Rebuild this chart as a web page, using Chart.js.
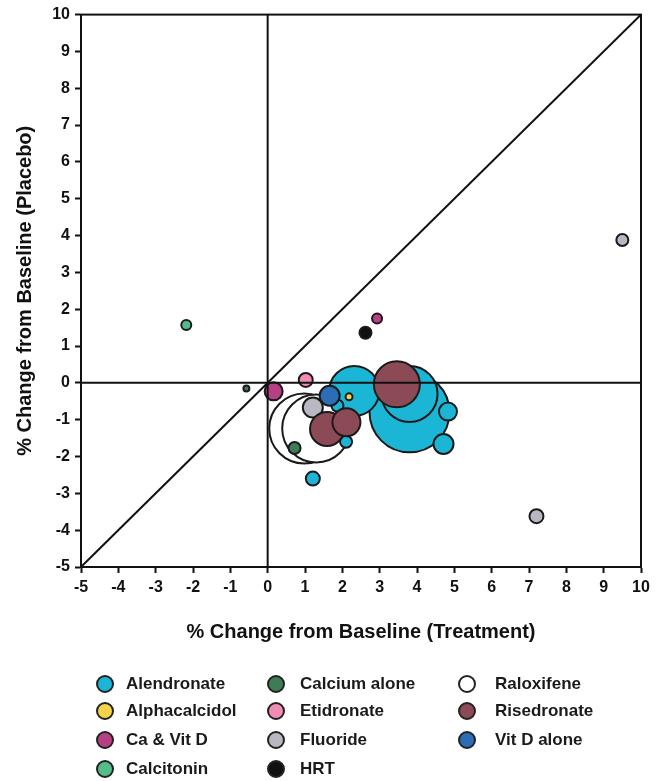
<!DOCTYPE html>
<html>
<head>
<meta charset="utf-8">
<title>% Change from Baseline</title>
<script src="https://cdn.jsdelivr.net/npm/chart.js@4/dist/chart.umd.min.js"></script>
<style>
    html, body { margin: 0; padding: 0; background: #fff; }
    #wrap { position: relative; width: 668px; height: 781px; overflow: hidden; }
    #legend { position: absolute; left: 0; top: 0; width: 668px; height: 781px; pointer-events: none;
              font-family: "Liberation Sans", Arial, sans-serif; font-weight: bold; font-size: 17px; color: #1a1a1a; }
    .dot { position: absolute; width: 14px; height: 14px; border: 2px solid #222; border-radius: 50%; }
    .lbl { position: absolute; line-height: 20px; white-space: nowrap; }
</style>
</head>
<body>
<div id="wrap">
    <canvas id="chart" width="668" height="781"></canvas>
    <div id="legend"></div>
</div>
<script>
// series names / colours (legend order, column by column)
const seriesNames = ['Alendronate', 'Alphacalcidol', 'Ca & Vit D', 'Calcitonin',
                     'Calcium alone', 'Etidronate', 'Fluoride', 'HRT',
                     'Raloxifene', 'Risedronate', 'Vit D alone'];
const seriesColors = ['#1bb6d5', '#f7d24b', '#b73f84', '#52bd88',
                      '#3e7c58', '#f28cb6', '#b9b8c2', '#101010',
                      '#ffffff', '#8b4a56', '#2b6db6'];

// each point: [treatment % change, placebo % change, bubble size]
const alendronate = [[3.8, -0.8, 40], [3.8, -0.3, 28], [2.32, -0.22, 25], [4.83, -0.78, 9],
                     [4.71, -1.66, 10], [1.21, -2.6, 7], [2.1, -1.6, 6], [1.87, -0.62, 6]];
const alphacalcidol = [[2.18, -0.38, 3.5]];
const caVitD = [[0.16, -0.23, 9], [2.93, 1.75, 5]];
const calcitonin = [[-2.18, 1.57, 5]];
const calciumAlone = [[-0.57, -0.15, 3], [0.72, -1.77, 6]];
const etidronate = [[1.02, 0.08, 7]];
const fluoride = [[1.21, -0.67, 10], [9.5, 3.88, 6], [7.2, -3.62, 7]];
const hrt = [[2.62, 1.36, 6]];
const raloxifene = [[0.98, -1.24, 35], [1.3, -1.24, 34]];
const risedronate = [[3.46, -0.04, 23], [1.59, -1.25, 17], [2.11, -1.07, 14]];
const vitDAlone = [[1.66, -0.35, 10]];

const seriesData = [alendronate, alphacalcidol, caVitD, calcitonin, calciumAlone, etidronate,
                    fluoride, hrt, raloxifene, risedronate, vitDAlone];
// larger = drawn further back
const drawOrder = [9, 3, 3, 6, 8, 7, 6, 3, 10, 5, 4];

// axis range and reference lines
const axisMin = -5;
const axisMax = 10;
const identityLine = [[-5, -5], [10, 10]];
const xZeroLine = [[0, -5], [0, 10]];
const yZeroLine = [[-5, 0], [10, 0]];

Chart.defaults.font.family = '"Liberation Sans", Arial, sans-serif';

function toPoints(arr) {
    return arr.map(p => ({ x: p[0], y: p[1], r: p[2] }));
}

function refLine(arr) {
    return {
        type: 'line',
        data: arr.map(p => ({ x: p[0], y: p[1] })),
        borderColor: '#111',
        borderWidth: 2,
        pointRadius: 0,
        fill: false,
        order: 0
    };
}

const datasets = seriesNames.map((name, i) => ({
    type: 'bubble',
    label: name,
    data: toPoints(seriesData[i]),
    backgroundColor: seriesColors[i],
    borderColor: '#1a1a1a',
    borderWidth: 2,
    order: drawOrder[i]
}));
datasets.push(refLine(identityLine), refLine(xZeroLine), refLine(yZeroLine));

// top and right edges of the plot box
const frame = {
    id: 'frame',
    afterDatasetsDraw(chart) {
        const { ctx, chartArea: a } = chart;
        ctx.save();
        ctx.strokeStyle = '#111';
        ctx.lineWidth = 2;
        ctx.strokeRect(a.left, a.top, a.right - a.left, a.bottom - a.top);
        ctx.restore();
    }
};

const tickFont = { size: 16, weight: 'bold' };
const titleFont = { size: 20, weight: 'bold' };

new Chart(document.getElementById('chart'), {
    type: 'bubble',
    data: { datasets: datasets },
    plugins: [frame],
    options: {
        responsive: false,
        animation: false,
        events: [],
        layout: { autoPadding: false, padding: { left: 0, right: 27, top: 12, bottom: 134 } },
        plugins: { legend: { display: false }, tooltip: { enabled: false } },
        scales: {
            x: {
                type: 'linear',
                min: axisMin,
                max: axisMax,
                ticks: { stepSize: 1, color: '#111', font: tickFont, padding: 5 },
                grid: { drawOnChartArea: false, tickLength: 6, tickColor: '#111', tickWidth: 2 },
                border: { color: '#111', width: 2 },
                title: { display: true, text: '% Change from Baseline (Treatment)', color: '#111',
                         font: titleFont, padding: { top: 0, bottom: 3 } },
                afterFit(s) { s.height = 80; }
            },
            y: {
                type: 'linear',
                min: axisMin,
                max: axisMax,
                ticks: { stepSize: 1, color: '#111', font: tickFont, padding: 5 },
                grid: { drawOnChartArea: false, tickLength: 6, tickColor: '#111', tickWidth: 2 },
                border: { color: '#111', width: 2 },
                title: { display: true, text: '% Change from Baseline (Placebo)', color: '#111',
                         font: titleFont, padding: { top: 13, bottom: 0 } },
                afterFit(s) { s.width = 81; }
            }
        }
    }
});

// legend: three columns
const legendCols = [{ dot: 105, text: 126 }, { dot: 276, text: 300 }, { dot: 467, text: 495 }];
const legendRows = [684, 711, 740, 769];
const legend = document.getElementById('legend');
seriesNames.forEach((name, i) => {
    const col = legendCols[Math.floor(i / 4)];
    const y = legendRows[i % 4];
    const dot = document.createElement('div');
    dot.className = 'dot';
    dot.style.left = (col.dot - 9) + 'px';
    dot.style.top = (y - 9) + 'px';
    dot.style.background = seriesColors[i];
    const lbl = document.createElement('div');
    lbl.className = 'lbl';
    lbl.style.left = col.text + 'px';
    lbl.style.top = (y - 10) + 'px';
    lbl.textContent = name;
    legend.appendChild(dot);
    legend.appendChild(lbl);
});
</script>
</body>
</html>
